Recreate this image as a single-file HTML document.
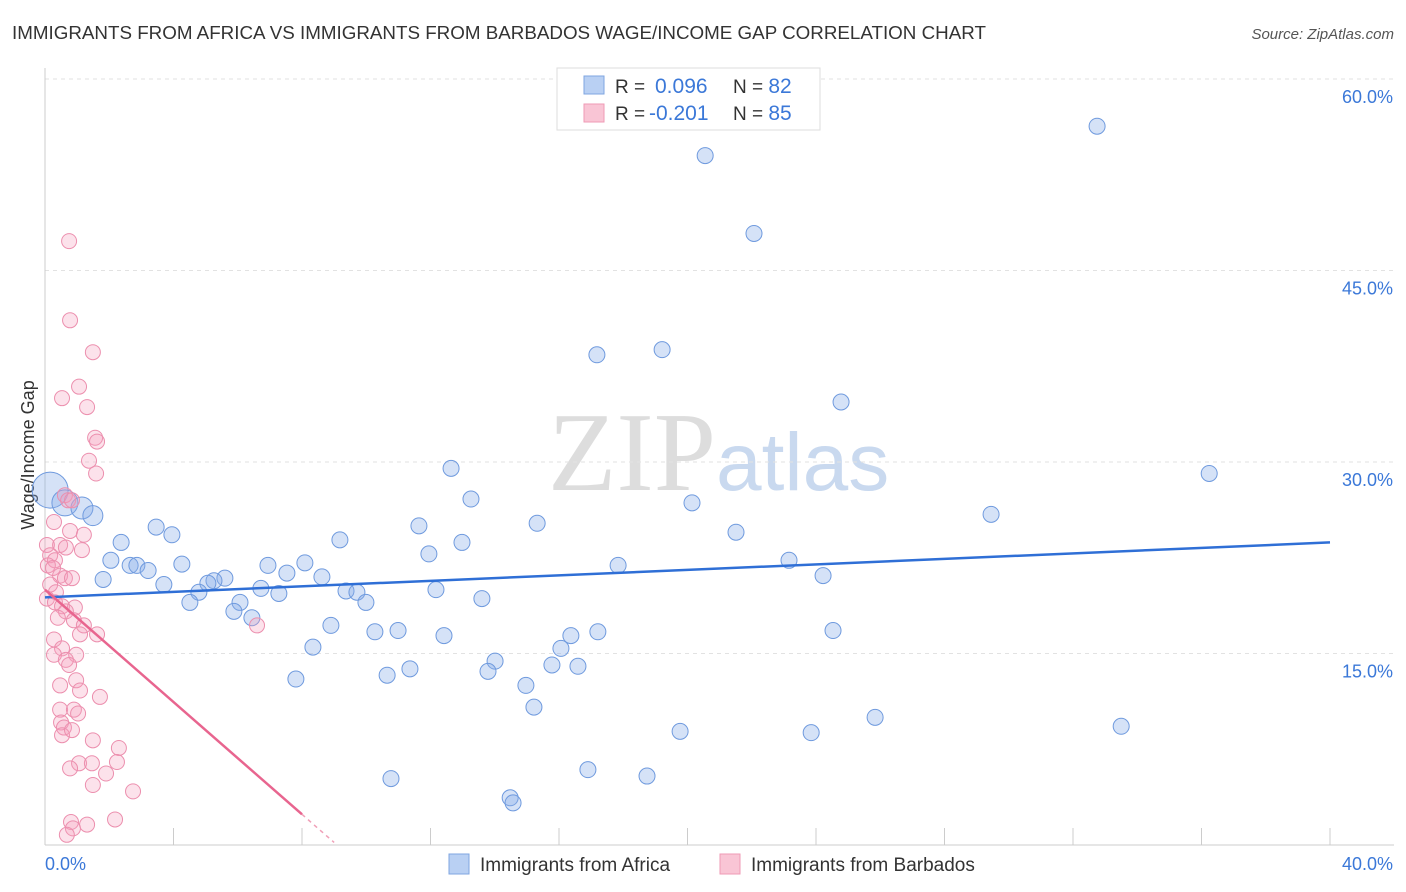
<!DOCTYPE html>
<html><head><meta charset="utf-8"><style>
body{margin:0;background:#fff;font-family:"Liberation Sans",sans-serif;}
#c{position:absolute;left:0;top:0;}
</style></head><body>
<svg id="c" width="1406" height="892" xmlns="http://www.w3.org/2000/svg">
<text x="12" y="39" font-size="18.8" fill="#333">IMMIGRANTS FROM AFRICA VS IMMIGRANTS FROM BARBADOS WAGE/INCOME GAP CORRELATION CHART</text>
<text x="1394" y="39" font-size="15" fill="#555" font-style="italic" text-anchor="end">Source: ZipAtlas.com</text>
<text x="716" y="490" font-size="112" fill="#ddd" font-family="Liberation Serif,serif" text-anchor="end">ZIP</text>
<text x="716" y="490" font-size="82" fill="#c9d9ef">atlas</text>
<text x="34" y="455" font-size="18" fill="#333" text-anchor="middle" transform="rotate(-90 34 455)">Wage/Income Gap</text>
<g id="grid"></g><g id="pts"></g><g id="trend"></g>
<g>
<rect x="557" y="68" width="263" height="62" fill="#fff" stroke="#ddd"/>
<rect x="584" y="76" width="20" height="18" fill="#b9d0f3" stroke="#7fa6e0"/>
<rect x="584" y="104" width="20" height="18" fill="#f9c5d5" stroke="#ef9ab5"/>
<text x="615" y="93" font-size="19" fill="#333">R = <tspan x="655" fill="#3b78d8" font-size="21">0.096</tspan><tspan x="733">N = </tspan><tspan fill="#3b78d8" font-size="21">82</tspan></text>
<text x="615" y="120" font-size="19" fill="#333">R = <tspan x="649" fill="#3b78d8" font-size="21">-0.201</tspan><tspan x="733">N = </tspan><tspan fill="#3b78d8" font-size="21">85</tspan></text>
</g>
<g>
<rect x="449" y="854" width="20" height="20" fill="#b9d0f3" stroke="#7fa6e0"/>
<text x="480" y="871" font-size="19" fill="#333">Immigrants from Africa</text>
<rect x="720" y="854" width="20" height="20" fill="#f9c5d5" stroke="#ef9ab5"/>
<text x="751" y="871" font-size="19" fill="#333">Immigrants from Barbados</text>
</g>
</svg>
<script>
const yTicks=[15,30,45,60];
const yTickLabels=["15.0%","30.0%","45.0%","60.0%"];
const xTickLabels=["0.0%","40.0%"];
const africaX=[32.75,20.55,22.07,17.18,19.21,24.78,36.24,12.64,13.26,20.14,29.45,15.32,11.64,21.51,3.46,3.95,2.37,9.18,12.98,11.95,2.05,23.16,2.65,2.86,3.21,4.26,6.94,8.09,7.53,17.84,24.22,8.62,1.81,5.60,5.26,5.07,3.70,4.79,6.72,7.28,9.37,9.71,12.17,13.60,9.99,4.51,6.07,5.88,6.44,8.90,10.27,10.99,12.42,16.37,17.21,24.53,16.06,8.34,14.01,11.36,15.78,16.59,13.79,10.65,7.81,14.97,15.22,25.84,19.77,23.85,33.50,16.90,18.74,10.77,14.48,14.57,0.16,0.62,1.15,1.49];
const africaY=[56.3,54.0,47.9,38.4,38.8,34.7,29.1,29.5,27.1,26.8,25.9,25.2,25.0,24.5,24.9,24.3,23.7,23.9,23.7,22.8,22.3,22.3,21.9,21.9,21.5,22.0,21.9,22.1,21.3,21.9,21.1,21.0,20.8,20.9,20.7,20.5,20.4,19.8,20.1,19.7,19.9,19.8,20.0,19.3,19.0,19.0,19.0,18.3,17.8,17.2,16.7,16.8,16.4,16.4,16.7,16.8,15.4,15.5,14.4,13.8,14.1,14.0,13.6,13.3,13.0,12.5,10.8,10.0,8.9,8.8,9.3,5.9,5.4,5.2,3.7,3.3,27.8,26.8,26.4,25.8];
const africaR=[8,8,8,8,8,8,8,8,8,8,8,8,8,8,8,8,8,8,8,8,8,8,8,8,8,8,8,8,8,8,8,8,8,8,8,8,8,8,8,8,8,8,8,8,8,8,8,8,8,8,8,8,8,8,8,8,8,8,8,8,8,8,8,8,8,8,8,8,8,8,8,8,8,8,8,8,18,13,11,10];
const barbX=[0.75,0.78,1.49,1.06,0.53,1.31,1.56,1.62,1.37,1.59,0.62,0.72,0.84,0.28,0.78,1.21,0.06,0.47,0.65,1.15,0.16,0.31,0.09,0.25,0.47,0.62,0.84,0.16,0.34,0.06,0.31,0.53,0.93,0.65,0.40,0.90,1.21,1.62,1.09,0.28,0.53,0.97,0.28,0.65,0.75,0.97,0.47,1.09,1.71,0.47,0.90,1.03,0.50,0.59,0.53,0.84,1.49,2.30,2.24,1.06,0.78,1.46,1.90,1.49,2.74,2.18,0.81,0.87,1.31,0.68,6.60];
const barbY=[47.3,41.1,38.6,35.9,35.0,34.3,31.9,31.6,30.1,29.1,27.4,27.0,27.0,25.3,24.6,24.3,23.5,23.5,23.3,23.1,22.7,22.3,21.9,21.7,21.1,20.9,20.9,20.4,19.8,19.3,19.0,18.7,18.6,18.3,17.8,17.6,17.2,16.5,16.5,16.1,15.4,14.9,14.9,14.5,14.1,12.9,12.5,12.1,11.6,10.6,10.6,10.3,9.6,9.2,8.6,9.0,8.2,7.6,6.5,6.4,6.0,6.4,5.6,4.7,4.2,2.0,1.8,1.3,1.6,0.8,17.2];
const africaTrend=[19.4,23.7];
const barbTrend=[20.0,-2.2];
const ns="http://www.w3.org/2000/svg";
const X0=45,X1=1330,Y0=845;
function sx(v){return X0+v/40*(X1-X0);}
function sy(v){return Y0-v/15*191.5;}
function mk(t,a,p){const e=document.createElementNS(ns,t);for(const k in a)e.setAttribute(k,a[k]);p.appendChild(e);return e;}
const g=document.getElementById('grid');
yTicks.forEach((t,i)=>{
 const l=mk('line',{x1:X0,x2:1394,y1:sy(t),y2:sy(t),stroke:'#e2e2e2','stroke-dasharray':'4 4'},g);
 
 
 const tx=mk('text',{x:1393,y:sy(t)+24,'font-size':18,fill:'#3b78d8','text-anchor':'end'},g);
 tx.textContent=yTickLabels[i];
 
 
});
const ax=mk('line',{x1:X0,x2:X0,y1:68,y2:Y0,stroke:'#ccc'},g);


const bx=mk('line',{x1:X0,x2:1394,y1:Y0,y2:Y0,stroke:'#ccc'},g);


for(let i=1;i<=10;i++){const t=mk('line',{x1:sx(i*4),x2:sx(i*4),y1:828,y2:Y0,stroke:'#ccc'},g);
 
 }
const xl0=mk('text',{x:45,y:870,'font-size':18,fill:'#3b78d8'},g);xl0.textContent=xTickLabels[0];


const xl1=mk('text',{x:1393,y:870,'font-size':18,fill:'#3b78d8','text-anchor':'end'},g);xl1.textContent=xTickLabels[1];


const P=document.getElementById('pts');
africaX.forEach((x,i)=>{const c=mk('circle',{cx:sx(x),cy:sy(africaY[i]),r:africaR[i],fill:'rgba(135,172,232,0.35)',stroke:'#6f9ade','stroke-width':1},P);
 
 });
barbX.forEach((x,i)=>{const c=mk('circle',{cx:sx(x),cy:sy(barbY[i]),r:7.5,fill:'rgba(244,160,188,0.3)',stroke:'#ec8fae','stroke-width':1},P);
 
 });
const T=document.getElementById('trend');
const l1=mk('line',{x1:sx(0),y1:sy(africaTrend[0]),x2:sx(40),y2:sy(africaTrend[1]),stroke:'#2f6fd6','stroke-width':2.5},T);


const l2=mk('line',{x1:sx(0),y1:sy(barbTrend[0]),x2:sx(8),y2:sy(barbTrend[0]+barbTrend[1]*8),stroke:'#e8658f','stroke-width':2.5},T);


const l3=mk('line',{x1:sx(8),y1:sy(barbTrend[0]+barbTrend[1]*8),x2:sx(9),y2:sy(barbTrend[0]+barbTrend[1]*9),stroke:'#f0a0b8','stroke-width':1.5,'stroke-dasharray':'4 4'},T);


</script>
</body></html>
